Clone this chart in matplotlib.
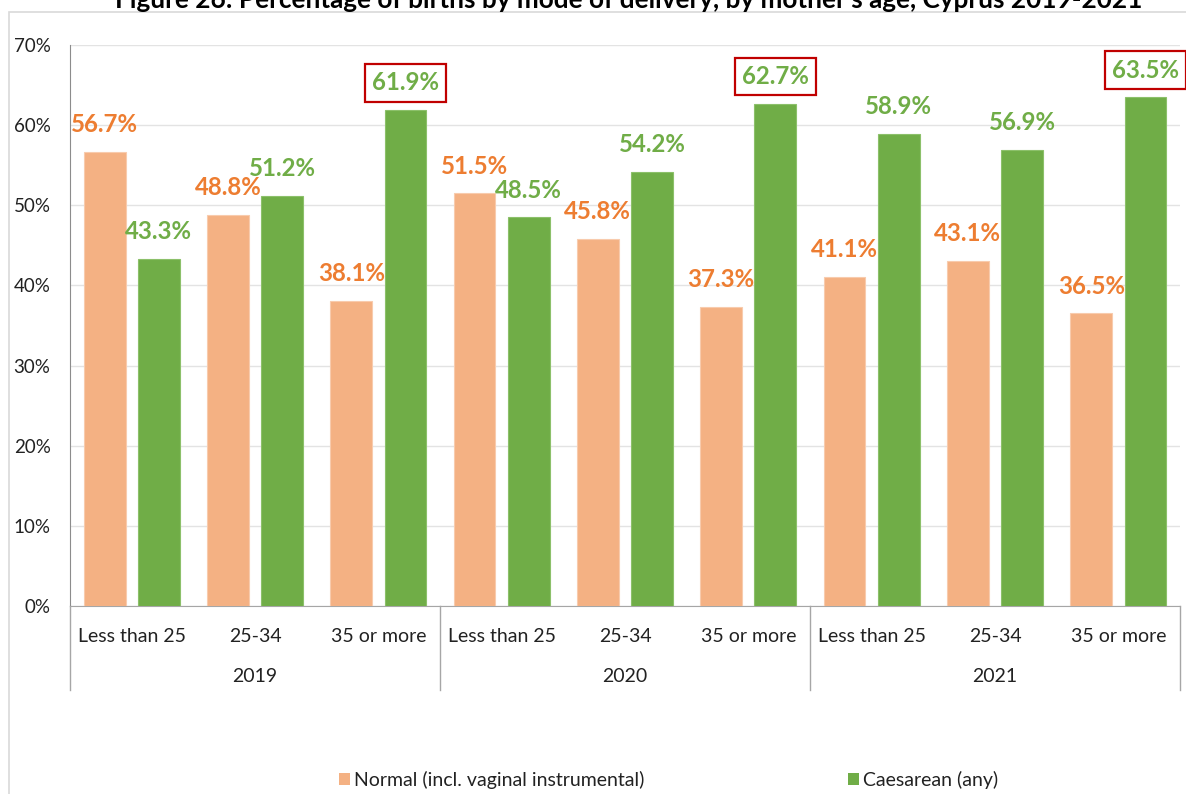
import matplotlib
matplotlib.use("Agg")
import matplotlib.pyplot as plt
from matplotlib.patches import Patch, Rectangle
import matplotlib.transforms as mtransforms
import numpy as np

plt.rcParams['font.family'] = ['Lato', 'DejaVu Sans']

years = ["2019", "2020", "2021"]
age_groups = ["Less than 25", "25-34", "35 or more"]
normal = [56.7, 48.8, 38.1, 51.5, 45.8, 37.3, 41.1, 43.1, 36.5]
caesarean = [43.3, 51.2, 61.9, 48.5, 54.2, 62.7, 58.9, 56.9, 63.5]
series_names = ["Normal (incl. vaginal instrumental)", "Caesarean (any)"]
title = "Figure 26: Percentage of births by mode of delivery, by mother's age, Cyprus 2019-2021"
yticks = [0, 10, 20, 30, 40, 50, 60, 70]

c_norm = "#F4B183"
c_caes = "#70AD47"
t_norm = "#ED7D31"
t_caes = "#70AD47"

W, H = 1186, 794
fig = plt.figure(figsize=(W / 100, H / 100), dpi=100)
ax = fig.add_axes([70 / W, 1 - 606 / H, (1180 - 70) / W, (606 - 45) / H])

n = len(normal)
x = np.arange(n)
bw = 0.34
off = 0.22
ax.bar(x - off, normal, bw, color=c_norm, edgecolor="#F8CBAD", linewidth=0.8, zorder=3)
ax.bar(x + off, caesarean, bw, color=c_caes, edgecolor="#8CC06A", linewidth=0.8, zorder=3)

ax.set_xlim(-0.5, n - 0.5)
ax.set_ylim(0, 70)
ax.set_yticks(yticks)
ax.set_yticklabels([f"{v}%" for v in yticks], fontsize=13.5, color="#222222")
ax.tick_params(axis='y', length=0, pad=14)
ax.set_xticks([])
ax.grid(axis='y', color="#E3E3E3", linewidth=1, zorder=0)
for s in ['top', 'right']:
    ax.spines[s].set_visible(False)
ax.spines['left'].set_color("#8C8C8C")
ax.spines['bottom'].set_color("#A6A6A6")

# highlighted maxima per year (Caesarean)
hl = set()
for g in range(len(years)):
    seg = caesarean[g * 3:(g + 1) * 3]
    hl.add(g * 3 + int(np.argmax(seg)))

for i in range(n):
    ax.annotate(f"{normal[i]:.1f}%", (x[i] - off, normal[i]), xytext=(0, 19.5),
                textcoords="offset points", ha="center", va="center",
                fontsize=17.3, fontweight="bold", color=t_norm, zorder=5)
    kw = {}
    if i in hl:
        kw['bbox'] = dict(boxstyle="square,pad=0.3", fc="white", ec="#C00000", lw=1.6)
    ax.annotate(f"{caesarean[i]:.1f}%", (x[i] + off, caesarean[i]), xytext=(0, 19.5),
                textcoords="offset points", ha="center", va="center",
                fontsize=17.3, fontweight="bold", color=t_caes, zorder=5, **kw)

trans = mtransforms.blended_transform_factory(ax.transData, ax.transAxes)
ah = 606 - 45
for i in range(n):
    ax.text(x[i], -30 / ah, age_groups[i % 3], transform=trans, ha="center", va="center",
            fontsize=14, color="#222222")
for g, yr in enumerate(years):
    ax.text(g * 3 + 1, -71 / ah, yr, transform=trans, ha="center", va="center",
            fontsize=14, color="#222222")
for xv in [-0.5, 2.5, 5.5, 8.5]:
    ax.plot([xv, xv], [0, -84 / ah], transform=trans, color="#A6A6A6", lw=1, clip_on=False)

handles = [Patch(facecolor=c_norm, edgecolor="none"), Patch(facecolor=c_caes, edgecolor="none")]
fig.legend(handles, series_names, loc="center", bbox_to_anchor=(668.5 / W, 1 - 780 / H),
           ncol=2, frameon=False, fontsize=14, handlelength=0.57, handleheight=0.62,
           handletextpad=0.2, columnspacing=10.5, labelcolor="#222222",
           borderpad=0, borderaxespad=0)

fig.add_artist(Rectangle((9 / W, -0.2), 1.2, 1.2 - 12 / H, transform=fig.transFigure,
                         fill=False, edgecolor="#D9D9D9", lw=1.2))
fig.text(629 / W, 1 - 8 / H, title, ha="center", va="baseline", fontsize=18.8,
         fontweight="bold", color="#000000")

fig.savefig("out.png", dpi=100)
